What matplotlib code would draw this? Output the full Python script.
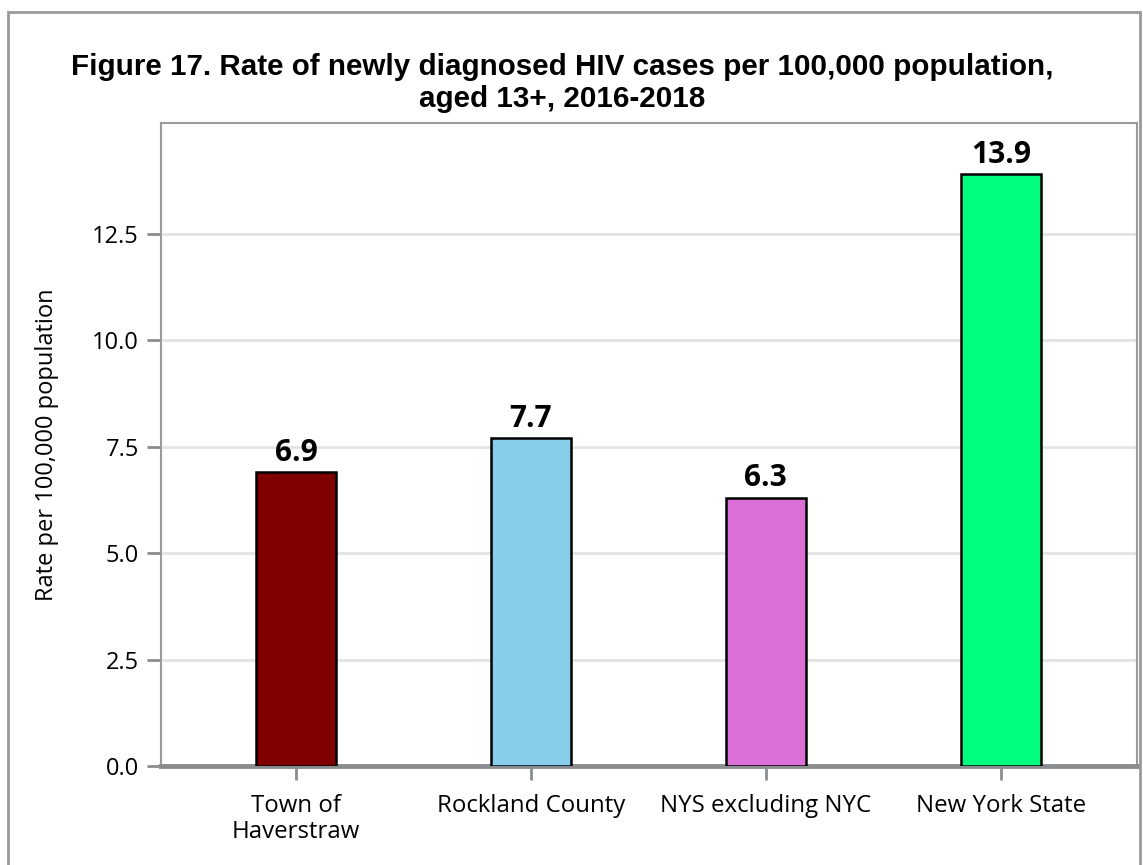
import matplotlib.pyplot as plt
from matplotlib.patches import Rectangle

categories = ["Town of\nHaverstraw", "Rockland County", "NYS excluding NYC", "New York State"]
rates = [6.9, 7.7, 6.3, 13.9]
bar_colors = ["#800000", "#87CEEB", "#DA70D6", "#00FF7F"]
yticks = [0.0, 2.5, 5.0, 7.5, 10.0, 12.5]

FONT = "Open Sans"

fig = plt.figure(figsize=(11.43, 8.65), dpi=100)
ax = fig.add_axes([161 / 1143, 1 - 766 / 865, (1137 - 161) / 1143, (766 - 123) / 865])

# outer frame
fig.patches.append(Rectangle((8 / 1143, -0.05), 1132 / 1143, 1 - 12 / 865 + 0.05,
                             transform=fig.transFigure, fill=False,
                             edgecolor="#999999", linewidth=2))

x = list(range(len(categories)))
ax.bar(x, rates, width=0.34, color=bar_colors, edgecolor="black", linewidth=1.8, zorder=3)

for xi, v in zip(x, rates):
    ax.text(xi, v + 0.1, f"{v:.1f}", ha="center", va="bottom",
            fontsize=21.5, fontweight="bold", family=FONT)

ax.set_xlim(-0.575, 3.58)
ax.set_ylim(0, 15.1)
ax.set_yticks(yticks)
ax.set_yticklabels([f"{t:.1f}" for t in yticks], family=FONT, fontsize=17)
ax.set_xticks(x)
ax.set_xticklabels(categories, family=FONT, fontsize=17.3, linespacing=1.1)
ax.set_ylabel("Rate per 100,000 population", family=FONT, fontsize=17)
ax.yaxis.set_label_coords(-0.104, 0.5)

ax.yaxis.grid(True, color="#e3e3e3", linewidth=2, zorder=0)
ax.set_axisbelow(True)
ax.tick_params(axis="both", color="#8a8d90", length=10, width=2)
ax.tick_params(axis="x", pad=10)
ax.tick_params(axis="y", pad=6)

for side in ["left", "top", "right"]:
    ax.spines[side].set_color("#9a9a9a")
    ax.spines[side].set_linewidth(1.5)
ax.spines["bottom"].set_color("#8a8d90")
ax.spines["bottom"].set_linewidth(3.5)

fig.text(0.492, 1 - 83 / 865,
         "Figure 17. Rate of newly diagnosed HIV cases per 100,000 population,\naged 13+, 2016-2018",
         ha="center", va="center", fontsize=21.3, fontweight="bold",
         family="Liberation Sans", linespacing=1.15)

fig.savefig("out.png", dpi=100)
